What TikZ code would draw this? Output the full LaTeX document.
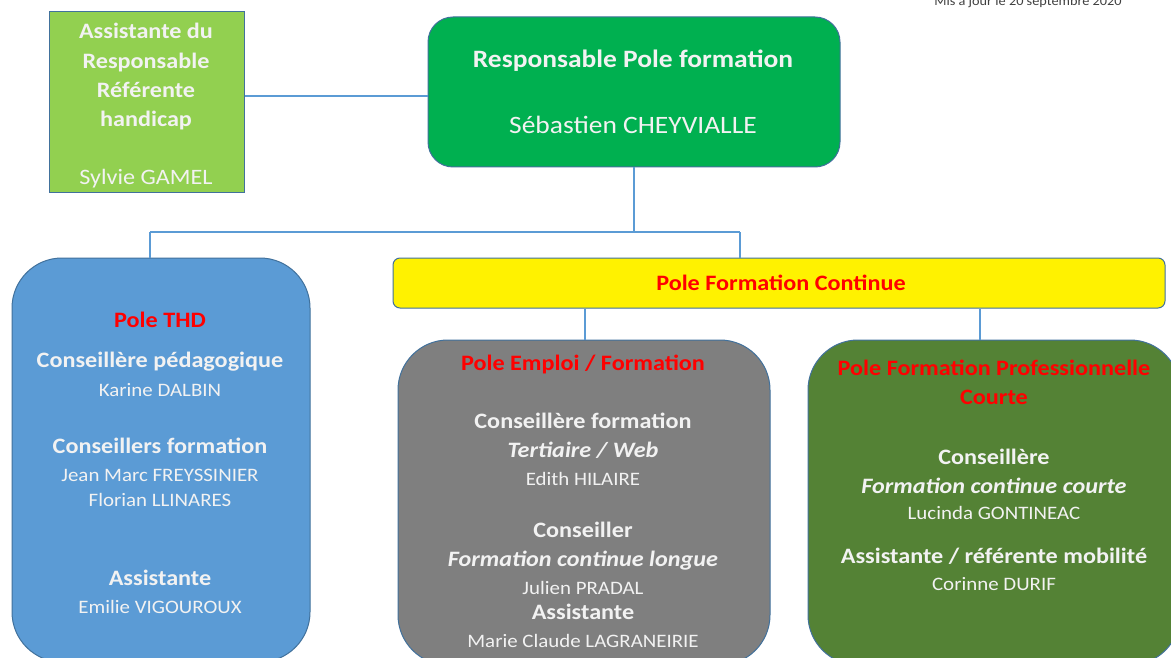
\documentclass[tikz,border=0pt]{standalone}
\usepackage{fontspec}
\setmainfont{Carlito}[FakeStretch=1.1]
\definecolor{lgreen}{HTML}{92D050}
\definecolor{mgreen}{HTML}{00B050}
\definecolor{dgreen}{HTML}{548235}
\definecolor{bluebox}{HTML}{5B9BD5}
\definecolor{greybox}{HTML}{7F7F7F}
\definecolor{edge}{HTML}{41719C}
\definecolor{conn}{HTML}{5B9BD5}
\definecolor{txt}{HTML}{F2F2F2}
\definecolor{redt}{HTML}{FF0000}
\tikzset{
  boxshape/.style={draw=edge, line width=1pt, inner sep=0pt, rectangle},
  t/.style={inner sep=0pt, text height=0.64em, text depth=0pt, text=txt, anchor=center, yshift=-4pt},
  hb/.style={t, font=\fontsize{22}{24}\selectfont\bfseries},
  hi/.style={t, font=\fontsize{22}{24}\selectfont\bfseries\itshape},
  nm/.style={t, font=\fontsize{19}{22}\selectfont},
  rd/.style={t, text=redt, font=\fontsize{22}{24}\selectfont\bfseries},
  connector/.style={draw=conn, line width=2pt},
}
\begin{document}
\begin{tikzpicture}[x=1pt, y=-1pt]
\useasboundingbox (0,0) rectangle (1171,658);
\fill[white] (0,0) rectangle (1171,658);

% date
\node[inner sep=0pt, text=black!75, font=\fontsize{13}{15}\selectfont] (date) at (1028,2) {Mis à jour le 20 septembre 2020};

% boxes
\node[boxshape, fill=lgreen, minimum width=195pt, minimum height=181pt] (asst) at (146.5,102.5) {};
\node[boxshape, fill=mgreen, rounded corners=25pt, minimum width=412pt, minimum height=150pt] (resp) at (634,92) {};
\node[boxshape, fill=bluebox, rounded corners=50pt, minimum width=298pt, minimum height=404pt] (thd) at (161,460) {};
\node[boxshape, fill=yellow, rounded corners=7pt, minimum width=772pt, minimum height=50pt] (fc) at (779,283) {};
\node[boxshape, fill=greybox, rounded corners=50pt, minimum width=372pt, minimum height=325pt] (emp) at (584,502.5) {};
\node[boxshape, fill=dgreen, rounded corners=50pt, minimum width=372pt, minimum height=325pt] (fpc) at (994,502.5) {};

% connectors
\coordinate (ya) at (0,96);
\coordinate (jm) at (634,232);
\coordinate (jl) at (150,232);
\coordinate (jr) at (740,232);
\coordinate (ja) at (585,308);
\coordinate (jb) at (980,308);
\draw[connector] (asst.east |- ya) -- (resp.west |- ya);
\draw[connector] (resp.south) -- (jm);
\draw[connector] (jl) -- (jr);
\draw[connector] (jl) -- (jl |- thd.north);
\draw[connector] (jr) -- (jr |- fc.north);
\draw[connector] (ja |- fc.south) -- (ja |- emp.north);
\draw[connector] (jb |- fc.south) -- (jb |- fpc.north);

% assistant text
\node[hb] (a1) at (146,31) {Assistante du};
\node[hb] (a2) at (146,61) {Responsable};
\node[hb] (a3) at (146,90) {Référente};
\node[hb] (a4) at (146,119) {handicap};
\node[nm, font=\fontsize{22}{24}\selectfont] (a5) at (146,177) {Sylvie GAMEL};

% responsable text
\node[hb, font=\fontsize{25}{28}\selectfont\bfseries] (r1) at (633,60) {Responsable Pole formation};
\node[nm, font=\fontsize{25}{28}\selectfont] (r2) at (633,126) {Sébastien CHEYVIALLE};

% yellow
\node[rd, font=\fontsize{22}{24}\selectfont\bfseries] (fct) at (781,283) {Pole Formation Continue};

% THD
\node[rd] (th1) at (160,320) {Pole THD};
\node[hb] (th2) at (160,360) {Conseillère pédagogique};
\node[nm] (th3) at (160,389) {Karine DALBIN};
\node[hb] (th4) at (160,446) {Conseillers formation};
\node[nm] (th5) at (160,474) {Jean Marc FREYSSINIER};
\node[nm] (th6) at (160,499) {Florian LLINARES};
\node[hb] (th7) at (160,578) {Assistante};
\node[nm] (th8) at (160,606) {Emilie VIGOUROUX};

% Emploi
\node[rd] (e1) at (583,363) {Pole Emploi / Formation};
\node[hb] (e2) at (583,421) {Conseillère formation};
\node[hi] (e3) at (583,450) {Tertiaire / Web};
\node[nm] (e4) at (583,478) {Edith HILAIRE};
\node[hb] (e5) at (583,530) {Conseiller};
\node[hi] (e6) at (583,559) {Formation continue longue};
\node[nm] (e7) at (583,587) {Julien PRADAL};
\node[hb] (e8) at (583,612) {Assistante};
\node[nm] (e9) at (583,640) {Marie Claude LAGRANEIRIE};

% FPC
\node[rd] (f1) at (994,368) {Pole Formation Professionnelle};
\node[rd] (f2) at (994,397) {Courte};
\node[hb] (f3) at (994,457) {Conseillère};
\node[hi] (f4) at (994,486) {Formation continue courte};
\node[nm] (f5) at (994,512) {Lucinda GONTINEAC};
\node[hb] (f6) at (994,556) {Assistante / référente mobilité};
\node[nm] (f7) at (994,583) {Corinne DURIF};
\end{tikzpicture}
\end{document}
